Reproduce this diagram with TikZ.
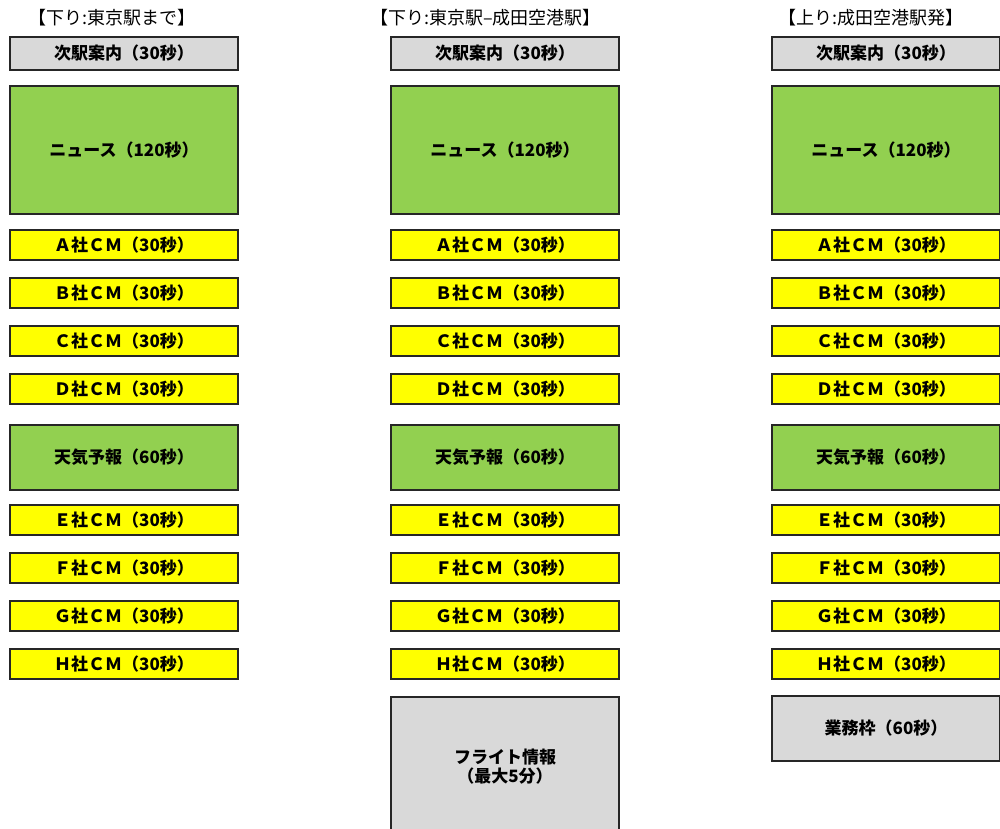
\documentclass[tikz,border=0pt]{standalone}
\usepackage{fontspec}
\setmainfont{Noto Sans CJK JP}
\usepackage{xcolor}
\usetikzlibrary{positioning}
\definecolor{slotline}{HTML}{262626}
\definecolor{slotgray}{HTML}{D9D9D9}
\definecolor{slotgreen}{HTML}{92D050}
\definecolor{slotyellow}{HTML}{FFFF00}

\begin{document}
\begin{tikzpicture}[x=1pt, y=1pt,
  font=\fontsize{17}{19}\selectfont\bfseries,
  slot/.style={draw=slotline, line width=1.6pt, minimum width=228pt, inner sep=0pt, outer sep=0pt, align=center},
  cmbox/.style={slot, fill=slotyellow, minimum height=30pt},
  ttl/.style={anchor=west, inner sep=0pt, font=\fontsize{18}{20}\selectfont}]
\useasboundingbox (0,0) rectangle (1000,-828);

\foreach \col/\x in {1/124, 2/505, 3/886} {
  \node[slot, fill=slotgray, minimum height=33pt](next\col) at (\x,-53.5) {次駅案内（30秒）};
  \node[slot, fill=slotgreen, minimum height=128pt, below=16pt of next\col](news\col) {ニュース（120秒）};
  \node[cmbox, below=16pt of news\col](cmA\col) {Ａ社ＣＭ（30秒）};
  \node[cmbox, below=18pt of cmA\col](cmB\col) {Ｂ社ＣＭ（30秒）};
  \node[cmbox, below=18pt of cmB\col](cmC\col) {Ｃ社ＣＭ（30秒）};
  \node[cmbox, below=18pt of cmC\col](cmD\col) {Ｄ社ＣＭ（30秒）};
  \node[slot, fill=slotgreen, minimum height=65pt, below=21pt of cmD\col](wthr\col) {天気予報（60秒）};
  \node[cmbox, below=15pt of wthr\col](cmE\col) {Ｅ社ＣＭ（30秒）};
  \node[cmbox, below=18pt of cmE\col](cmF\col) {Ｆ社ＣＭ（30秒）};
  \node[cmbox, below=18pt of cmF\col](cmG\col) {Ｇ社ＣＭ（30秒）};
  \node[cmbox, below=18pt of cmG\col](cmH\col) {Ｈ社ＣＭ（30秒）};
}

% extra slots at the end of the airport runs
\node[slot, fill=slotgray, minimum height=140pt, below=18pt of cmH2](flight) {フライト情報\\（最大5分）};
\node[slot, fill=slotgray, minimum height=65pt, below=17pt of cmH3](biz) {業務枠（60秒）};

\node[ttl](ttl1) at (28,-18) {【下り:東京駅まで】};
\node[ttl](ttl2) at (370,-18) {【下り:東京駅–成田空港駅】};
\node[ttl](ttl3) at (778,-18) {【上り:成田空港駅発】};

\end{tikzpicture}
\end{document}
